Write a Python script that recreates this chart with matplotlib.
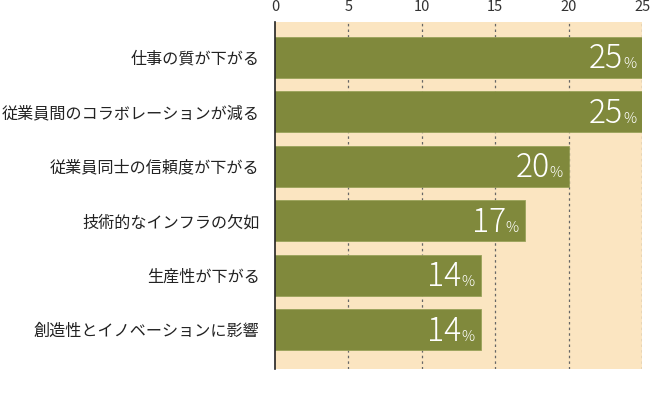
import matplotlib.pyplot as plt

plt.rcParams['font.family'] = ['Noto Sans CJK JP', 'DejaVu Sans']

categories = ['仕事の質が下がる', '従業員間のコラボレーションが減る', '従業員同士の信頼度が下がる',
              '技術的なインフラの欠如', '生産性が下がる', '創造性とイノベーションに影響']
values = [25, 25, 20, 17, 14, 14]
ticks = [0, 5, 10, 15, 20, 25]

bar_color = '#80893c'
bg_color = '#fbe5c1'

fig = plt.figure(figsize=(6.5, 4.05), dpi=100)
ax = fig.add_axes([0.423, 0.089, 0.565, 0.857])
ax.set_facecolor(bg_color)

y_pos = range(len(categories))
ax.barh(y_pos, values, height=0.76, color=bar_color, edgecolor='#9aa25a', linewidth=0.6, zorder=3)

ax.set_xlim(0, 25)
ax.set_ylim(5.72, -0.65)
ax.set_xticks(ticks)
ax.xaxis.tick_top()
ax.tick_params(axis='x', length=0, pad=6, labelsize=10.5, labelcolor='#333333')
ax.set_yticks(list(y_pos))
ax.set_yticklabels(categories, fontsize=11.6, color='#222222')
ax.tick_params(axis='y', length=0, pad=11)

for s in ['top', 'right', 'bottom']:
    ax.spines[s].set_visible(False)
ax.spines['left'].set_color('#222222')
ax.spines['left'].set_linewidth(1.2)
ax.spines['left'].set_zorder(5)

for t in ticks[1:]:
    ax.axvline(t, color='#666666', linestyle=(0, (2, 2.5)), linewidth=0.9, zorder=1)

# value labels inside bars
for i, v in enumerate(values):
    ax.annotate('%', (v, i), xytext=(-6, -11), textcoords='offset pixels',
                ha='right', va='baseline', color='white', fontsize=10.5, fontweight='light', zorder=6)
    ax.annotate(str(v), (v, i), xytext=(-19, -11), textcoords='offset pixels',
                ha='right', va='baseline', color='white', fontsize=23, fontweight='light', zorder=6)

plt.savefig('out.png', dpi=100, facecolor='white')
